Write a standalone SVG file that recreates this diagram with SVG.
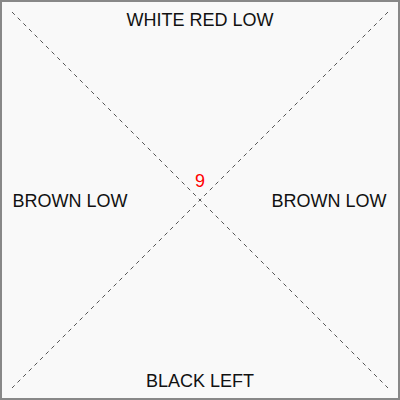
<svg xmlns="http://www.w3.org/2000/svg" width="400" height="400" viewBox="0 0 400 400">
<style>
.lbl{font-family:"Liberation Sans",Arial,sans-serif;font-size:18px;fill:#111;text-anchor:middle}
.num{font-family:"Liberation Sans",Arial,sans-serif;font-size:18px;fill:#ff0000;text-anchor:middle}
.diag{stroke:#555;stroke-width:1;stroke-dasharray:4,4;fill:none}
</style>
<rect x="1" y="1" width="398" height="398" fill="#f9f9f9" stroke="#888" stroke-width="2"/>
<g id="connectors">
<line class="diag" x1="12" y1="12" x2="388" y2="388"/>
<line class="diag" x1="388" y1="12" x2="12" y2="388"/>
</g>
<g id="top"><text class="lbl" x="200" y="26">WHITE RED LOW</text></g>
<g id="left"><text class="lbl" x="70" y="207">BROWN LOW</text></g>
<g id="right"><text class="lbl" x="329" y="207">BROWN LOW</text></g>
<g id="bottom"><text class="lbl" x="200" y="387">BLACK LEFT</text></g>
<g id="center"><text class="num" x="200" y="187">9</text></g>
</svg>
